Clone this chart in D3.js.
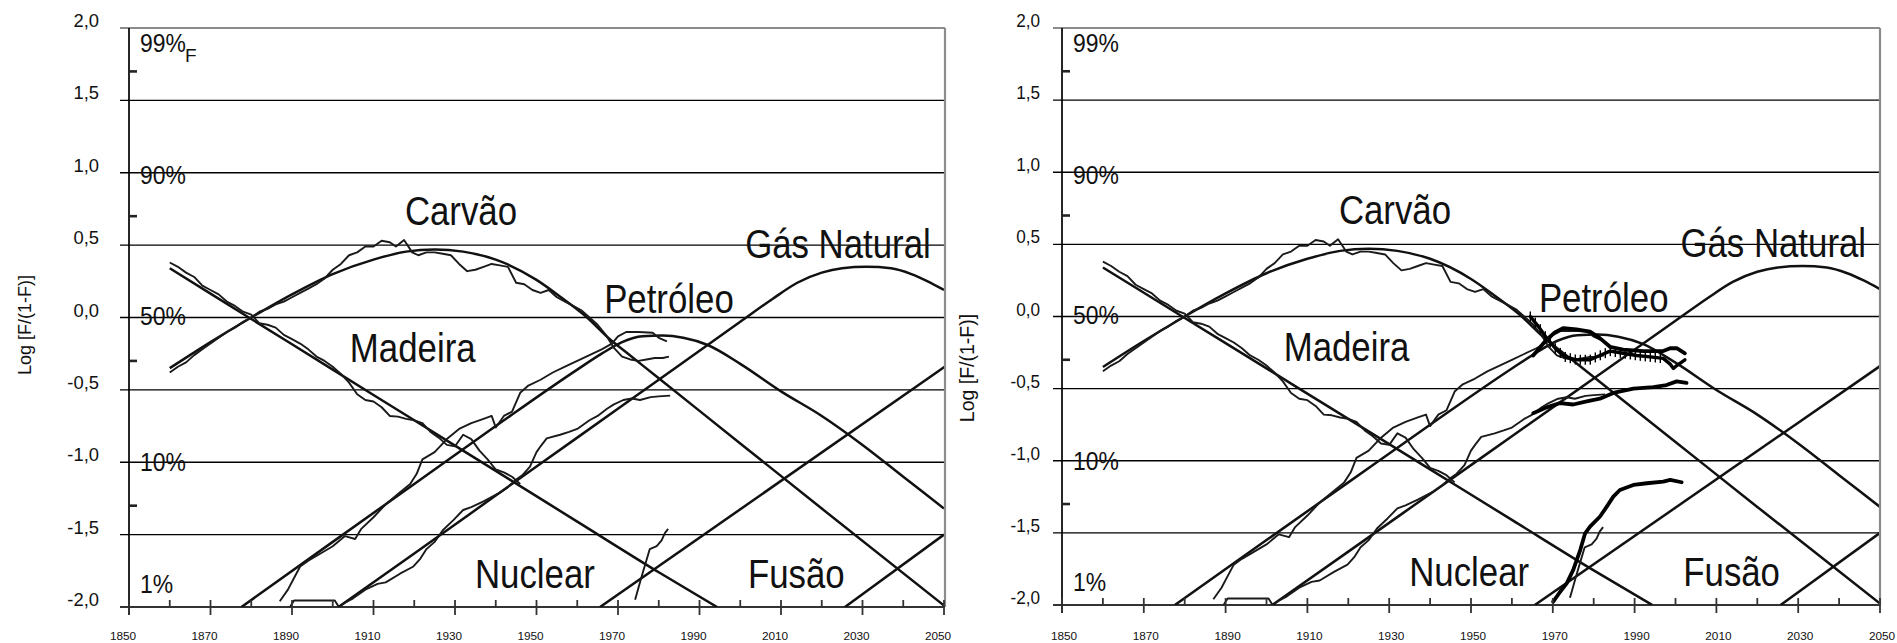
<!DOCTYPE html>
<html><head><meta charset="utf-8">
<script src="https://cdn.jsdelivr.net/npm/d3@7"></script>
<style>
body{margin:0;background:#fff}
svg{display:block}
text{font-family:"Liberation Sans",Arial,Helvetica,sans-serif;fill:#111}
</style>
</head><body>
<svg id="c" width="1897" height="643"></svg>
<script>
// ---------- data ----------
const xTickYears = d3.range(1850, 2051, 20);          // labelled ticks
const xMinorYears = d3.range(1860, 2050, 20);         // unlabelled ticks
const yTickValues = [2, 1.5, 1, 0.5, 0, -0.5, -1, -1.5, -2];
const yMinorValues = [1.7, 0.7, -0.3, -1.3];
const pctLabels = ["99%", "90%", "50%", "10%", "1%"];
const pctLevels = [2, 1, 0, -1, -2];
const axisTitle = "Log [F/(1-F)]";

const curveNames = ["Carvão", "Gás Natural", "Petróleo", "Madeira", "Nuclear", "Fusão"];
const curveNameAnchors = [[1917.7, 0.64], [2001.2, 0.41], [1966.6, 0.03], [1904.2, -0.31], [1934.9, -1.87], [2001.9, -1.87]];

// fitted logistic substitution curves [year, log F/(1-F)]
const woodFit = [[1860,0.34],[1880,-0.01],[1900,-0.36],[1920,-0.71],[1940,-1.06],[1960,-1.41],[1980,-1.76],[1994.3,-2.0]];
const coalFit = [[1860,-0.35],[1870,-0.17],[1880,0.0],[1890,0.16],[1900,0.30],[1910,0.40],[1918,0.455],[1925,0.47],[1932,0.455],[1940,0.40],[1950,0.26],[1956,0.14],[1962,0.01],[1968,-0.15],[1972,-0.24],[1980,-0.42],[2000,-0.87],[2020,-1.32],[2050,-1.99]];
const oilFit = [[1877.6,-2.0],[1900,-1.55],[1920,-1.15],[1940,-0.75],[1960,-0.36],[1966,-0.25],[1971,-0.17],[1976,-0.13],[1981,-0.125],[1986,-0.14],[1992,-0.19],[2000,-0.32],[2010,-0.51],[2020,-0.68],[2030,-0.88],[2040,-1.10],[2050,-1.32]];
const gasFit = [[1901.4,-2.0],[1920,-1.63],[1940,-1.23],[1960,-0.83],[1980,-0.43],[2000,-0.03],[2008,0.13],[2014,0.24],[2020,0.31],[2025,0.34],[2031,0.35],[2037,0.34],[2042,0.30],[2046,0.25],[2050,0.19]];
const nuclearFit = [[1965.6,-2.0],[2050.2,-0.34]];
const fusionFit = [[2025.7,-2.0],[2050,-1.5]];

// historical data
const woodHist = [[1860,0.38],[1862,0.35],[1864,0.31],[1866,0.28],[1868,0.22],[1870,0.19],[1872,0.16],[1874,0.11],[1876,0.08],[1878,0.04],[1880,0.02],[1882,-0.04],[1884,-0.05],[1886,-0.07],[1888,-0.12],[1890,-0.15],[1892,-0.18],[1894,-0.22],[1896,-0.27],[1898,-0.30],[1900,-0.34],[1902,-0.39],[1904,-0.45],[1906,-0.53],[1908,-0.57],[1910,-0.58],[1912,-0.62],[1914,-0.68],[1916,-0.685],[1918,-0.70],[1920,-0.71],[1922,-0.73],[1924,-0.79],[1926,-0.83],[1928,-0.88],[1930,-0.89],[1932,-0.81],[1934,-0.84],[1936,-0.92],[1938,-0.98],[1940,-1.05],[1942,-1.07],[1944,-1.10],[1946,-1.15]];
const coalHist = [[1860,-0.38],[1862,-0.34],[1864,-0.31],[1866,-0.26],[1868,-0.22],[1870,-0.18],[1872,-0.14],[1874,-0.10],[1876,-0.07],[1878,-0.03],[1880,0.0],[1882,0.04],[1884,0.06],[1886,0.09],[1888,0.11],[1890,0.14],[1892,0.17],[1894,0.20],[1896,0.23],[1898,0.27],[1900,0.33],[1902,0.37],[1904,0.43],[1906,0.45],[1908,0.49],[1910,0.49],[1912,0.53],[1914,0.52],[1915.5,0.49],[1917.5,0.535],[1919.5,0.45],[1921,0.43],[1923,0.45],[1925,0.45],[1927,0.44],[1929,0.43],[1931,0.37],[1933,0.32],[1935,0.33],[1937,0.35],[1939,0.37],[1941,0.36],[1943,0.35],[1945,0.24],[1947,0.23],[1949,0.19],[1951,0.17],[1953,0.19],[1955,0.14],[1957,0.11],[1959,0.08],[1961,0.05],[1963,0.0],[1965,-0.05],[1967,-0.12],[1969,-0.21],[1971,-0.27],[1973,-0.29],[1975,-0.30],[1977,-0.29],[1979,-0.28],[1981,-0.28],[1982.5,-0.27]];
const oilHist = [[1887,-1.96],[1889,-1.88],[1890.5,-1.80],[1892,-1.72],[1894,-1.68],[1897,-1.63],[1900,-1.58],[1903,-1.51],[1905.5,-1.53],[1907,-1.46],[1910,-1.38],[1913,-1.29],[1916,-1.22],[1919,-1.15],[1920.6,-1.08],[1922,-0.98],[1925,-0.93],[1928,-0.84],[1931,-0.77],[1934,-0.73],[1937,-0.70],[1939,-0.68],[1940,-0.76],[1942,-0.68],[1944,-0.65],[1946,-0.52],[1948,-0.47],[1951,-0.43],[1954,-0.38],[1957,-0.34],[1960,-0.30],[1963,-0.26],[1966,-0.22],[1968.5,-0.18],[1970,-0.13],[1972,-0.10],[1975,-0.10],[1978.5,-0.105],[1980,-0.14],[1982,-0.165]];
const gasEarly = [[1889.5,-2.0],[1890.5,-1.955],[1900.5,-1.955],[1901.5,-2.0]];
const gasHist = [[1902,-1.99],[1903,-1.97],[1905,-1.94],[1908,-1.88],[1911,-1.84],[1913,-1.83],[1916.5,-1.77],[1919.8,-1.72],[1921.4,-1.67],[1923,-1.60],[1925,-1.55],[1927,-1.47],[1929.6,-1.40],[1932,-1.33],[1934,-1.31],[1937,-1.27],[1941,-1.21],[1943,-1.17],[1945,-1.12],[1946.5,-1.09],[1948.4,-1.03],[1950,-0.93],[1951,-0.89],[1952.5,-0.835],[1955.8,-0.81],[1958,-0.79],[1960,-0.77],[1963,-0.71],[1965,-0.68],[1967.3,-0.63],[1969,-0.60],[1971.3,-0.57],[1973.4,-0.56],[1975.4,-0.57],[1978,-0.55],[1980,-0.545],[1982.8,-0.54]];
const nuclearHist = [[1974.2,-1.95],[1975.8,-1.79],[1977,-1.675],[1977.8,-1.60],[1979.5,-1.58],[1980.7,-1.54],[1981.5,-1.49],[1982.3,-1.46]];

// updated data (right panel only)
const coalNew = [[1964.5,0.0],[1966.5,-0.07],[1968.5,-0.15],[1970.9,-0.23],[1973,-0.28],[1975.8,-0.30],[1979.1,-0.30],[1981.5,-0.27],[1984,-0.24],[1987.2,-0.255],[1990.5,-0.27],[1993.8,-0.28],[1997,-0.29],[1998.7,-0.33],[1999.5,-0.36],[2000.3,-0.34],[2002.3,-0.30]];
const coalNewHatchedUntil = 1997;
const oilNew = [[1965.2,-0.27],[1967,-0.21],[1968.5,-0.16],[1970.5,-0.11],[1972.6,-0.08],[1975.8,-0.09],[1979.1,-0.105],[1981.5,-0.15],[1984,-0.21],[1987.2,-0.23],[1992.1,-0.24],[1997,-0.24],[1998.7,-0.22],[2000.3,-0.22],[2002.3,-0.255]];
const gasNew = [[1965.2,-0.67],[1968.5,-0.63],[1971.8,-0.60],[1975,-0.61],[1978,-0.59],[1981.5,-0.57],[1984.8,-0.53],[1989.7,-0.50],[1994.6,-0.49],[1997.8,-0.475],[2000.3,-0.45],[2002.7,-0.46]];
const nuclearNew = [[1970.1,-1.977],[1971.8,-1.908],[1973.4,-1.85],[1975,-1.757],[1976.7,-1.619],[1977.9,-1.503],[1979.1,-1.457],[1980.7,-1.411],[1981.5,-1.388],[1983.2,-1.318],[1984.8,-1.249],[1986.4,-1.203],[1989.7,-1.168],[1993,-1.156],[1997,-1.145],[1998.7,-1.133],[2001.5,-1.149]];

// ---------- drawing ----------
const svg = d3.select("#c");
const fmt = d3.formatLocale({decimal: ",", thousands: ".", grouping: [3], currency: ["", ""], minus: "-"}).format(".1f");

const panels = [
  {x0:129, x1:944, y0:28, y1:607, gridX:120, frameX:945, yLabX:99, yLabScale:1.05, xLabDx:-6, titleX:25, titleY:325, titleSize:18, sub:true, extra:false},
  {x0:1062, x1:1880, y0:28, y1:605, gridX:1053, frameX:1880, yLabX:1040, yLabScale:0.98, xLabDx:2, titleX:967, titleY:368, titleSize:19.5, sub:false, extra:true}
];

function scaledText(g, str, px, py, size, sx, anchor) {
  return g.append("text")
    .attr("transform", `translate(${px},${py}) scale(${sx},1)`)
    .attr("font-size", size)
    .attr("text-anchor", anchor || "start")
    .text(str);
}

panels.forEach((p, pi) => {
  const x = d3.scaleLinear().domain([1850, 2050]).range([p.x0, p.x1]);
  const y = d3.scaleLinear().domain([-2, 2]).range([p.y1, p.y0]);
  const g = svg.append("g");

  // grid lines
  yTickValues.forEach(v => {
    g.append("line")
      .attr("x1", p.gridX).attr("x2", p.frameX)
      .attr("y1", y(v)).attr("y2", y(v))
      .attr("stroke", v === 2 ? "#8c8c8c" : (v === -2 ? "#333" : "#000"))
      .attr("stroke-width", v === 2 ? 2 : (v === -2 ? 2.2 : 1.3));
  });

  // curves
  const clipId = "clip" + pi;
  svg.append("defs").append("clipPath").attr("id", clipId)
    .append("rect").attr("x", p.x0).attr("y", p.y0).attr("width", p.x1 - p.x0).attr("height", p.y1 - p.y0);
  const cg = g.append("g").attr("clip-path", `url(#${clipId})`);
  const smooth = d3.line().x(d => x(d[0])).y(d => y(d[1])).curve(d3.curveMonotoneX);
  const jag = d3.line().x(d => x(d[0])).y(d => y(d[1]));

  [woodFit, coalFit, oilFit, gasFit, nuclearFit, fusionFit].forEach(s => {
    cg.append("path").attr("d", smooth(s)).attr("fill", "none")
      .attr("stroke", "#111").attr("stroke-width", 2.5);
  });
  [woodHist, coalHist, oilHist, gasEarly, gasHist, nuclearHist].forEach(s => {
    cg.append("path").attr("d", jag(s)).attr("fill", "none")
      .attr("stroke", "#1a1a1a").attr("stroke-width", 1.9).attr("stroke-linejoin", "round");
  });

  if (p.extra) {
    [oilNew, gasNew, nuclearNew].forEach(s => {
      cg.append("path").attr("d", jag(s)).attr("fill", "none")
        .attr("stroke", "#000").attr("stroke-width", 3.8).attr("stroke-linejoin", "round").attr("stroke-linecap", "round");
    });
    cg.append("path").attr("d", jag(coalNew)).attr("fill", "none")
      .attr("stroke", "#000").attr("stroke-width", 3.4).attr("stroke-linejoin", "round").attr("stroke-linecap", "round");
    // hatch marks on the updated coal series
    const pts = coalNew.map(d => [x(d[0]), y(d[1])]);
    const xa = x(coalNew[0][0]), xb = x(coalNewHatchedUntil);
    for (let px = xa; px <= xb; px += 5) {
      let i = 0;
      while (i < pts.length - 2 && pts[i + 1][0] < px) i++;
      const t = (px - pts[i][0]) / (pts[i + 1][0] - pts[i][0]);
      const py = pts[i][1] + t * (pts[i + 1][1] - pts[i][1]);
      cg.append("line").attr("x1", px).attr("x2", px).attr("y1", py - 5).attr("y2", py + 5)
        .attr("stroke", "#000").attr("stroke-width", 1.4);
    }
  }

  // frame & axes
  g.append("line").attr("x1", p.frameX).attr("x2", p.frameX).attr("y1", p.y0).attr("y2", p.y1)
    .attr("stroke", "#8c8c8c").attr("stroke-width", 2.2);
  g.append("line").attr("x1", p.x0).attr("x2", p.x0).attr("y1", p.y0).attr("y2", p.y1 + 8)
    .attr("stroke", "#000").attr("stroke-width", 1.7);
  yMinorValues.forEach(v => {
    g.append("line").attr("x1", p.x0).attr("x2", p.x0 + 8).attr("y1", y(v)).attr("y2", y(v))
      .attr("stroke", "#222").attr("stroke-width", 2.6);
  });
  xMinorYears.forEach(yr => {
    g.append("line").attr("x1", x(yr)).attr("x2", x(yr)).attr("y1", p.y1 - 7).attr("y2", p.y1)
      .attr("stroke", "#333").attr("stroke-width", 1.8);
  });
  xTickYears.forEach(yr => {
    g.append("line").attr("x1", x(yr)).attr("x2", x(yr)).attr("y1", p.y1 - 7).attr("y2", p.y1 + 8)
      .attr("stroke", "#333").attr("stroke-width", 1.8);
    g.append("text").attr("x", x(yr) + p.xLabDx).attr("y", 640)
      .attr("text-anchor", "middle").attr("font-size", 11.8).text(yr);
  });

  // y tick labels
  yTickValues.forEach(v => {
    scaledText(g, fmt(v), p.yLabX, y(v) - 1, 17.5, p.yLabScale, "end");
  });

  // axis title
  g.append("text").attr("transform", `translate(${p.titleX},${p.titleY}) rotate(-90)`)
    .attr("text-anchor", "middle").attr("dominant-baseline", "central")
    .attr("font-size", p.titleSize).text(axisTitle);

  // percentage labels
  const pctDy = [24, 11.5, 7, 9, -14];
  pctLabels.forEach((t, i) => {
    scaledText(g, t, p.x0 + 11, y(pctLevels[i]) + pctDy[i], 25.5, 0.9).attr("fill", "#222");
  });
  if (p.sub) {
    g.append("text").attr("x", p.x0 + 56).attr("y", y(2) + 34).attr("font-size", 19).text("F");
  }

  // curve names
  curveNames.forEach((n, i) => {
    scaledText(g, n, x(curveNameAnchors[i][0]), y(curveNameAnchors[i][1]), 40, 0.87);
  });
});
</script>
</body></html>
